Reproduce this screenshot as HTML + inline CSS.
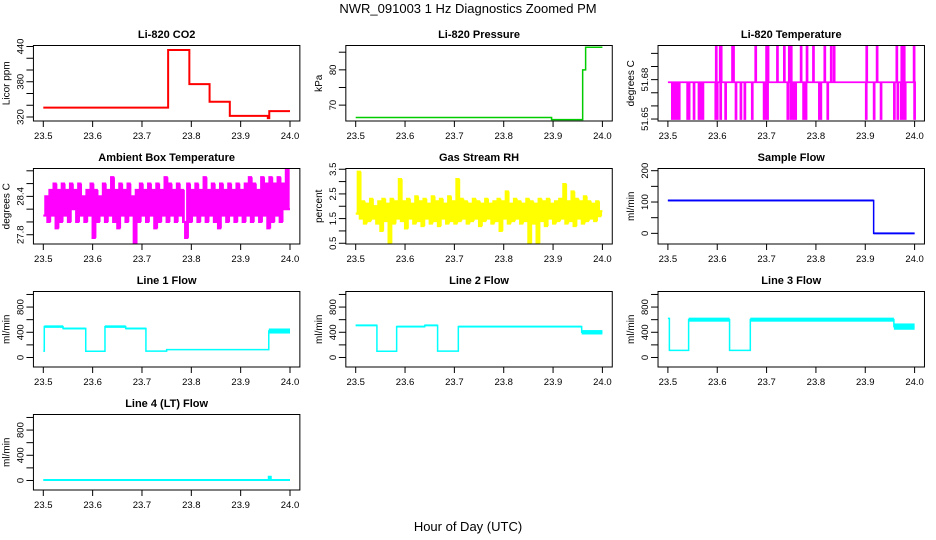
<!DOCTYPE html>
<html><head><meta charset="utf-8">
<style>
html,body{margin:0;padding:0;background:#fff;}
svg{display:block;font-family:"Liberation Sans",sans-serif;}
.tt{font-size:11px;font-weight:bold;text-anchor:middle;}
.tk{font-size:9.5px;text-anchor:middle;}
</style></head>
<body>
<svg id="chart" width="936" height="540" viewBox="0 0 936 540">
<text x="468" y="13" font-size="13" text-anchor="middle">NWR_091003  1 Hz Diagnostics Zoomed PM</text>
<text x="468" y="531" font-size="13" text-anchor="middle">Hour of Day (UTC)</text>
</svg>
<script>
// ---- data ----
const xTicks = [23.5, 23.6, 23.7, 23.8, 23.9, 24.0];
const xTickLabels = ["23.5","23.6","23.7","23.8","23.9","24.0"];
const tStart = 23.5, tEnd = 24.0;

const co2Starts = [23.5, 23.753, 23.796, 23.837, 23.878, 23.955, 23.958];
const co2Levels = [336, 434, 376, 346, 322, 318, 330];

const presStarts = [23.5, 23.897, 23.96, 23.966];
const presLevels = [66.5, 65.9, 80, 86.4];

const tempBase = 51.678;
const tempDown = [23.508,23.512,23.515,23.520,23.522,23.539,23.542,23.552,23.562,23.566,23.570,23.596,23.599,23.606,23.616,23.637,23.647,23.655,23.670,23.694,23.698,23.701,23.742,23.748,23.752,23.755,23.758,23.774,23.779,23.806,23.809,23.823,23.901,23.917,23.931,23.958,23.965,23.972,23.977,23.980,23.999];
const tempUp = [23.597,23.605,23.607,23.630,23.632,23.677,23.699,23.702,23.721,23.735,23.745,23.749,23.769,23.781,23.794,23.817,23.830,23.836,23.902,23.923,23.963,23.973,23.975,23.978,23.998];
const tempLow = 51.65, tempHigh = 51.705;

const ambValues = [28.1,28.4,28.0,28.5,28.1,28.6,27.9,28.5,28.0,28.6,
28.1,28.5,28.0,28.6,28.2,28.5,28.0,28.6,28.1,28.4,
28.0,28.5,28.1,28.6,27.75,28.5,28.0,28.4,28.1,28.6,
28.0,28.5,28.1,28.7,28.0,28.5,27.9,28.6,28.1,28.5,
28.0,28.6,28.1,28.4,27.66,28.5,28.0,28.6,28.1,28.5,
28.0,28.6,28.1,28.5,27.9,28.6,28.0,28.5,28.1,28.7,
28.0,28.6,28.1,28.5,28.0,28.6,28.1,28.5,28.0,27.75,
28.6,28.0,28.5,28.1,28.6,28.0,28.5,28.1,28.7,28.0,
28.5,28.1,28.6,28.0,28.5,27.9,28.6,28.1,28.5,28.0,
28.6,28.1,28.5,28.0,28.6,28.1,28.5,28.0,28.6,28.1,
28.7,28.0,28.6,28.1,28.5,28.0,28.7,28.1,28.6,27.9,
28.7,28.0,28.6,28.1,28.7,28.0,28.6,28.2,28.83,28.2];

const rhValues = [1.7,3.4,1.5,2.2,1.3,2.1,1.4,2.3,1.5,2.0,
1.3,2.2,1.0,2.3,1.4,2.1,0.5,2.3,1.3,2.2,
1.5,3.1,1.4,2.2,1.1,2.3,1.5,2.1,1.3,2.4,
1.4,2.2,1.2,2.3,1.5,2.1,1.3,2.4,1.4,2.2,
1.2,2.3,1.5,2.1,1.3,2.4,1.4,2.2,1.3,3.1,
1.4,2.3,1.5,2.2,1.3,2.1,1.4,2.3,1.5,2.2,
1.2,2.1,1.4,2.3,1.5,2.1,1.3,2.2,1.4,2.3,
1.0,2.2,1.5,2.6,1.3,2.1,1.4,2.3,1.5,2.2,
1.3,2.1,1.4,2.3,0.5,2.2,1.3,2.1,0.5,2.3,
1.4,2.2,1.2,2.3,1.5,2.1,1.3,2.2,1.4,2.3,
1.5,2.9,1.3,2.2,1.4,2.6,1.2,2.3,1.5,2.2,
1.3,2.4,1.4,2.2,1.5,2.1,1.4,2.2,1.6,1.8];

const sampleStarts = [23.5, 23.917];
const sampleLevels = [105, 0];
const sampleNoise = [3, 3];

const line1Starts = [23.5, 23.502, 23.54, 23.586, 23.625, 23.667, 23.708, 23.75, 23.957];
const line1Levels = [100, 490, 460, 98, 490, 460, 100, 125, 420];
const line1Noise  = [0, 20, 15, 0, 20, 15, 0, 0, 40];

const line2Starts = [23.5, 23.543, 23.583, 23.64, 23.666, 23.708, 23.958];
const line2Levels = [510, 98, 490, 510, 100, 490, 400];
const line2Noise  = [15, 0, 15, 15, 0, 15, 35];

const line3Starts = [23.5, 23.503, 23.542, 23.625, 23.667, 23.958];
const line3Levels = [620, 112, 600, 112, 600, 490];
const line3Noise  = [0, 0, 32, 0, 32, 50];

const line4Starts = [23.5, 23.957, 23.961];
const line4Levels = [8, 60, 8];
const line4Noise  = [0, 0, 0];

// ---- layout ----
const svg = document.getElementById('chart');
const NS = 'http://www.w3.org/2000/svg';
const colX = [43.3, 355.7, 667.9];
const pxSpan = 246.7;
const rowTop = [45.5, 168.5, 291.5, 414.5];
const boxH = 75.5;

function mk(tag, attrs, parent){
  const e = document.createElementNS(NS, tag);
  for (const k in attrs) e.setAttribute(k, attrs[k]);
  (parent || svg).appendChild(e);
  return e;
}

function panel(col, row, title, ylab, domain, yTicks, yLabels, name){
  const g = mk('g', {});
  
  
  const x0 = colX[col], top = rowTop[row], bot = top + boxH;
  const pad = pxSpan * 0.04;
  const bx = x0 - pad, bw = pxSpan + 2 * pad;
  const X = t => x0 + (t - tStart) / (tEnd - tStart) * pxSpan;
  const Y = v => bot - (v - domain[0]) / (domain[1] - domain[0]) * boxH;
  const t = mk('text', {x: bx + bw / 2, y: top - 7.5, class: 'tt'}, g);
  t.textContent = title;
  
  
  xTicks.forEach((v, i) => {
    mk('line', {x1: X(v), x2: X(v), y1: bot, y2: bot + 6, stroke: '#000', 'stroke-width': 1}, g);
    const l = mk('text', {x: X(v), y: bot + 18, class: 'tk'}, g);
    l.textContent = xTickLabels[i];
    
    
  });
  yTicks.forEach(v => {
    mk('line', {x1: bx - 7, x2: bx, y1: Y(v), y2: Y(v), stroke: '#000', 'stroke-width': 1}, g);
  });
  yLabels.forEach(v => {
    const l = mk('text', {x: 0, y: 0, class: 'tk', transform: `translate(${bx - 10},${Y(v)}) rotate(-90)`}, g);
    l.textContent = String(v);
    
    
  });
  const yl = mk('text', {x: 0, y: 0, 'font-size': 10, 'text-anchor': 'middle', transform: `translate(${bx - 24},${(top + bot) / 2}) rotate(-90)`}, g);
  yl.textContent = ylab;
  
  
  const clip = 'clip' + name;
  const cp = mk('clipPath', {id: clip}, g);
  mk('rect', {x: bx, y: top, width: bw, height: boxH}, cp);
  const dg = mk('g', {'clip-path': `url(#${clip})`}, g);
  const box = mk('rect', {x: bx, y: top, width: bw, height: boxH, fill: 'none', stroke: '#000', 'stroke-width': 1}, g);
  
  
  return {X, Y, dg};
}

function stepSeries(p, starts, levels, noise, color, sw, name){
  let d = '';
  for (let i = 0; i < starts.length; i++){
    const t0 = starts[i], t1 = i + 1 < starts.length ? starts[i + 1] : tEnd;
    const y = p.Y(levels[i]);
    d += (i === 0 ? 'M' : 'L') + p.X(t0) + ',' + y + 'L' + p.X(t1) + ',' + y;
    if (noise && noise[i] > 0){
      const r = mk('rect', {x: p.X(t0), y: p.Y(levels[i] + noise[i]), width: p.X(t1) - p.X(t0), height: p.Y(levels[i] - noise[i]) - p.Y(levels[i] + noise[i]), fill: color}, p.dg);
      
      
    }
  }
  const path = mk('path', {d, fill: 'none', stroke: color, 'stroke-width': sw}, p.dg);
  
  
}

function indexSeries(p, vals, color, name){
  const n = vals.length;
  const dx = (tEnd - tStart) / n;
  let d = '';
  vals.forEach((v, i) => {
    const x0 = p.X(tStart + i * dx), x1 = p.X(tStart + (i + 1) * dx);
    const y = p.Y(v);
    d += (i ? 'L' : 'M') + x0 + ',' + y + 'L' + x1 + ',' + y;
  });
  const path = mk('path', {d, fill: 'none', stroke: color, 'stroke-width': 2.2, 'stroke-linejoin': 'miter'}, p.dg);
  
  
  // extra vertical connectors to fill the dense band
  let d2 = '';
  for (let i = 1; i < n; i++){
    const x = p.X(tStart + (i + 0.5) * dx);
    d2 += 'M' + x + ',' + p.Y(vals[i]) + 'L' + x + ',' + p.Y(vals[i - 1]);
  }
  const path2 = mk('path', {d: d2, fill: 'none', stroke: color, 'stroke-width': 1.4}, p.dg);
  
  
}

let p = panel(0, 0, 'Li-820 CO2', 'Licor ppm', [313.2, 441.7], [320,340,360,380,400,420,440], [320,380,440], 'co2');
stepSeries(p, co2Starts, co2Levels, null, '#ff0000', 2, 'co2');
p = panel(1, 0, 'Li-820 Pressure', 'kPa', [65.5, 86.9], [70,75,80,85], [70,80], 'pressure');
stepSeries(p, presStarts, presLevels, null, '#00cc00', 1.5, 'pressure');
p = panel(2, 0, 'Li-820 Temperature', 'degrees C', [51.6485, 51.706], [51.65,51.66,51.67,51.68,51.69,51.70], [51.65,51.68], 'li820-temp');
{
  const evts = tempDown.map(t => [t, tempLow]).concat(tempUp.map(t => [t, tempHigh])).sort((a, b) => a[0] - b[0]);
  let d = 'M' + p.X(tStart) + ',' + p.Y(tempBase);
  evts.forEach(e => {
    d += 'L' + p.X(e[0]) + ',' + p.Y(tempBase) + 'L' + p.X(e[0]) + ',' + p.Y(e[1]) + 'L' + (p.X(e[0]) + 1) + ',' + p.Y(e[1]) + 'L' + (p.X(e[0]) + 1) + ',' + p.Y(tempBase);
  });
  d += 'L' + p.X(tEnd) + ',' + p.Y(tempBase);
  const path = mk('path', {d, fill: 'none', stroke: '#ff00ff', 'stroke-width': 1.7}, p.dg);
  
  
}
p = panel(0, 1, 'Ambient Box Temperature', 'degrees C', [27.655, 28.836], [27.8,28.0,28.2,28.4,28.6,28.8], [27.8,28.4], 'ambient-temp');
indexSeries(p, ambValues, '#ff00ff', 'ambient-temp');
p = panel(1, 1, 'Gas Stream RH', 'percent', [0.47, 3.53], [0.5,1.0,1.5,2.0,2.5,3.0,3.5], [0.5,1.5,2.5,3.5], 'rh');
indexSeries(p, rhValues, '#ffff00', 'rh');
p = panel(2, 1, 'Sample Flow', 'ml/min', [-34, 207], [0,50,100,150,200], [0,100,200], 'sample-flow');
stepSeries(p, sampleStarts, sampleLevels, sampleNoise, '#0000ff', 1.5, 'sample-flow');
const flowDom = [-151, 1047], flowTicks = [0,200,400,600,800,1000], flowLabels = [0,400,800];
p = panel(0, 2, 'Line 1 Flow', 'ml/min', flowDom, flowTicks, flowLabels, 'line1');
stepSeries(p, line1Starts, line1Levels, line1Noise, '#00ffff', 1.5, 'line1');
p = panel(1, 2, 'Line 2 Flow', 'ml/min', flowDom, flowTicks, flowLabels, 'line2');
stepSeries(p, line2Starts, line2Levels, line2Noise, '#00ffff', 1.5, 'line2');
p = panel(2, 2, 'Line 3 Flow', 'ml/min', flowDom, flowTicks, flowLabels, 'line3');
stepSeries(p, line3Starts, line3Levels, line3Noise, '#00ffff', 1.5, 'line3');
p = panel(0, 3, 'Line 4 (LT) Flow', 'ml/min', flowDom, flowTicks, flowLabels, 'line4');
stepSeries(p, line4Starts, line4Levels, line4Noise, '#00ffff', 2, 'line4');
</script>
</body></html>
